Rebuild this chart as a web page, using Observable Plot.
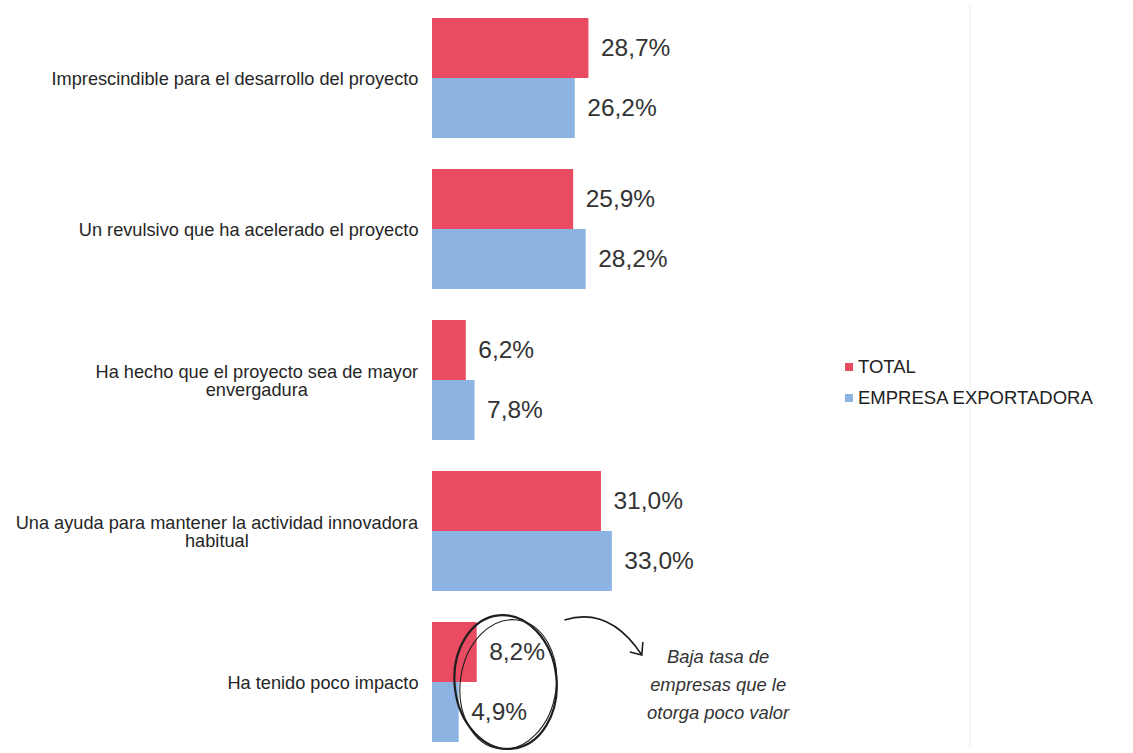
<!DOCTYPE html>
<html>
<head>
<meta charset="utf-8">
<script src="https://cdn.jsdelivr.net/npm/d3@7"></script>
<script src="https://cdn.jsdelivr.net/npm/@observablehq/plot@0.6"></script>
<style>
  html, body { margin: 0; padding: 0; background: #fff; }
  #chart { position: relative; width: 1133px; height: 753px; }
  svg { font-family: "Liberation Sans", Arial, sans-serif; }
</style>
</head>
<body>
<div id="chart"></div>
<script>
const categories = [
  "Imprescindible para el desarrollo del proyecto",
  "Un revulsivo que ha acelerado el proyecto",
  "Ha hecho que el proyecto sea de mayor\nenvergadura",
  "Una ayuda para mantener la actividad innovadora\nhabitual",
  "Ha tenido poco impacto"
];
const series = ["TOTAL", "EMPRESA EXPORTADORA"];
const totalValues = [28.7, 25.9, 6.2, 31.0, 8.2];
const exportadoraValues = [26.2, 28.2, 7.8, 33.0, 4.9];
const colors = ["#e84b62", "#8db3e2"];
const annotationText = "Baja tasa de\nempresas que le\notorga poco valor";

const data = [];
categories.forEach((c, i) => {
  data.push({category: c, series: series[0], value: totalValues[i]});
  data.push({category: c, series: series[1], value: exportadoraValues[i]});
});
const fmt = v => v.toFixed(1).replace(".", ",") + "%";

const W = 1133, H = 753;
const plot = Plot.plot({
  width: W,
  height: H,
  marginLeft: 432,
  marginRight: W - 432 - 545,
  marginTop: 18,
  marginBottom: 11,
  style: {fontFamily: "Liberation Sans, Arial, sans-serif", background: "#fff"},
  x: {domain: [0, 100], axis: null},
  y: {domain: series, padding: 0, axis: null},
  fy: {domain: categories, paddingInner: 31 / 151, paddingOuter: 0, axis: null, label: null},
  color: {domain: series, range: colors},
  marks: [
    Plot.barX(data, {fy: "category", y: "series", x: "value", fill: "series"}),
    Plot.text(data, {fy: "category", y: "series", x: "value", text: d => fmt(d.value),
      textAnchor: "start", dx: 12, fontSize: 24.5, fill: "#333"}),
    Plot.text(categories, {fy: d => d, text: d => d, frameAnchor: "left", dx: -14, dy: 1,
      textAnchor: "end", fontSize: 18.2, fill: "#262626", lineHeight: 1.0})
  ]
});
document.getElementById("chart").appendChild(plot);

const svg = d3.select(plot);
// center multi-line category labels within their block (right edge fixed)
svg.selectAll("text").each(function() {
  const spans = this.querySelectorAll("tspan");
  if (spans.length > 1) {
    const w = this.getBBox().width;
    this.setAttribute("text-anchor", "middle");
    this.style.textAnchor = "middle";
    spans.forEach(s => { s.setAttribute("x", -w / 2); s.style.textAnchor = "middle"; });
  }
});

const xs = plot.scale("x"), fys = plot.scale("fy");
const fy0 = fys.apply(categories[4]), bw = fys.bandwidth;
const X = v => xs.apply(v);
// faint frame line
svg.append("line").attr("x1", 970).attr("x2", 970).attr("y1", 4).attr("y2", 748)
  .attr("stroke", "#f2f2f2").attr("stroke-width", 1.5);

// annotation: hand-drawn circle around low values
const cx = X(13.5), cy = fy0 + bw * 0.5;
const g = svg.append("g").attr("fill", "none").attr("stroke", "#1e1e1e");
g.append("ellipse").attr("cx", cx).attr("cy", cy).attr("rx", 51).attr("ry", 67)
  .attr("stroke-width", 2.2).attr("transform", `rotate(-6 ${cx} ${cy})`);
g.append("ellipse").attr("cx", cx + 3).attr("cy", cy + 2).attr("rx", 48).attr("ry", 65)
  .attr("stroke-width", 1.1).attr("transform", `rotate(8 ${cx} ${cy})`);
// arrow
const ax0 = X(24.3), ay0 = fy0 - 2;
const ax1 = X(38.5), ay1 = fy0 + 33;
g.append("path").attr("stroke-width", 1.6)
  .attr("d", `M${ax0},${ay0} Q${ax0 + 45},${ay0 - 14} ${ax1},${ay1}`);
g.append("path").attr("stroke-width", 1.6)
  .attr("d", `M${ax1 - 12},${ay1 - 3} L${ax1},${ay1} L${ax1 + 1},${ay1 - 13}`);
// annotation text
const tx = X(52.5);
const txt = svg.append("text").attr("x", tx).attr("y", fy0 + 41)
  .attr("text-anchor", "middle").attr("font-style", "italic").attr("font-size", 18.4)
  .attr("fill", "#333");
annotationText.split("\n").forEach((line, i) => {
  txt.append("tspan").attr("x", tx).attr("dy", i === 0 ? 0 : 28).text(line);
});

// legend
const lg = svg.append("g").attr("font-size", 18.5).attr("fill", "#222").attr("text-anchor", "start");
series.forEach((s, i) => {
  const ly = 367 + i * 31;
  lg.append("rect").attr("x", 845).attr("y", ly - 4).attr("width", 8).attr("height", 8)
    .attr("fill", colors[i]);
  lg.append("text").attr("x", 858).attr("y", ly).attr("dy", "0.35em").text(s);
});
</script>
</body>
</html>
